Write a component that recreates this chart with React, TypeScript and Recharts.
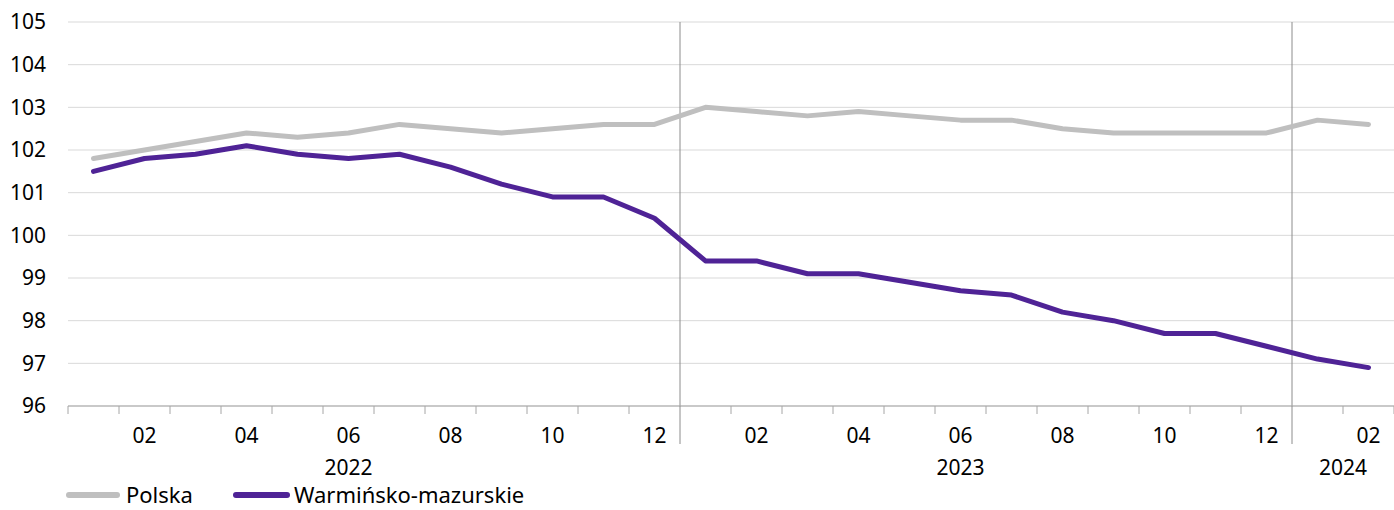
import React from 'react';
import { LineChart, Line, XAxis, YAxis, CartesianGrid, ReferenceLine } from 'recharts';

const monthLabels = ['01','02','03','04','05','06','07','08','09','10','11','12','01','02','03','04','05','06','07','08','09','10','11','12','01','02'];
const polska = [101.8,102.0,102.2,102.4,102.3,102.4,102.6,102.5,102.4,102.5,102.6,102.6,103.0,102.9,102.8,102.9,102.8,102.7,102.7,102.5,102.4,102.4,102.4,102.4,102.7,102.6];
const warminsko = [101.5,101.8,101.9,102.1,101.9,101.8,101.9,101.6,101.2,100.9,100.9,100.4,99.4,99.4,99.1,99.1,98.9,98.7,98.6,98.2,98.0,97.7,97.7,97.4,97.1,96.9];
const yearLabels = [
  { year: '2022', pos: 6 },
  { year: '2023', pos: 18 },
  { year: '2024', pos: 25.5 },
];
const yTicks = [96, 97, 98, 99, 100, 101, 102, 103, 104, 105];
const yearBoundaries = [12.5, 24.5];

const data = monthLabels.map((m, i) => ({ x: i + 1, month: m, polska: polska[i], warm: warminsko[i] }));
const n = monthLabels.length;
const xTicks = Array.from({ length: n + 1 }, (_, i) => i + 0.5);

const FONT = '"Noto Sans", sans-serif';
const GRAY = '#bfbfbf';
const PURPLE = '#4f2396';

function XTick(props: any) {
  const { x, y, index } = props;
  const w = typeof props.width === 'number' && props.width > 0 ? props.width : 1326;
  const band = w / n;
  const value = xTicks[index];
  const isYearBoundary = yearBoundaries.includes(value);
  const month = index < n ? monthLabels[index] : null;
  return (
    <g>
      <line x1={x} x2={x} y1={y} y2={y + (isYearBoundary ? 38 : 8)} stroke={isYearBoundary ? '#8c8c8c' : '#a6a6a6'} strokeWidth={1} />
      {month && parseInt(month, 10) % 2 === 0 && (
        <text x={x + band / 2} y={y + 37} textAnchor="middle" fontSize={21} fill="#000" fontFamily={FONT}>{month}</text>
      )}
      {index === 0 && yearLabels.map((yl) => (
        <text key={yl.year} x={x + (yl.pos - 0.5) * band} y={y + 69} textAnchor="middle" fontSize={21} fill="#000" fontFamily={FONT}>{yl.year}</text>
      ))}
    </g>
  );
}

export default function App() {
  return (
    <div style={{ position: 'absolute', left: 0, top: 0, width: 1394, height: 510, background: '#fff', fontFamily: FONT, overflow: 'hidden' }}>
      <LineChart width={1394} height={510} data={data} margin={{ top: 22, right: 0, left: 0, bottom: 0 }}>
        <CartesianGrid vertical={false} stroke="#d9d9d9" strokeWidth={1} />
        <XAxis
          dataKey="x"
          type="number"
          domain={[0.5, n + 0.5]}
          ticks={xTicks}
          interval={0}
          height={104}
          tickLine={false}
          tickSize={0}
          tickMargin={0}
          axisLine={{ stroke: '#a6a6a6' }}
          tick={<XTick />}
        />
        <YAxis
          domain={[96, 105]}
          ticks={yTicks}
          width={68}
          axisLine={false}
          tickLine={false}
          tickSize={0}
          tickMargin={22}
          tick={{ fontSize: 21, fill: '#000', fontFamily: FONT }}
        />
        {yearBoundaries.map((b) => (
          <ReferenceLine key={b} x={b} stroke="#8c8c8c" strokeWidth={1} />
        ))}
        <Line dataKey="polska" stroke={GRAY} strokeWidth={5} dot={false} isAnimationActive={false} strokeLinejoin="round" strokeLinecap="round" />
        <Line dataKey="warm" stroke={PURPLE} strokeWidth={5} dot={false} isAnimationActive={false} strokeLinejoin="round" strokeLinecap="round" />
      </LineChart>
      <div style={{ position: 'absolute', left: 66, top: 483, height: 23, display: 'flex', alignItems: 'center', fontSize: 22, color: '#000', fontFamily: FONT, lineHeight: '23px', whiteSpace: 'nowrap' }}>
        <span style={{ display: 'inline-block', width: 54, height: 6, borderRadius: 3, background: GRAY }} />
        <span style={{ marginLeft: 6 }}>Polska</span>
        <span style={{ display: 'inline-block', width: 57, height: 6, borderRadius: 3, background: PURPLE, marginLeft: 40 }} />
        <span style={{ marginLeft: 4 }}>Warmińsko-mazurskie</span>
      </div>
    </div>
  );
}
